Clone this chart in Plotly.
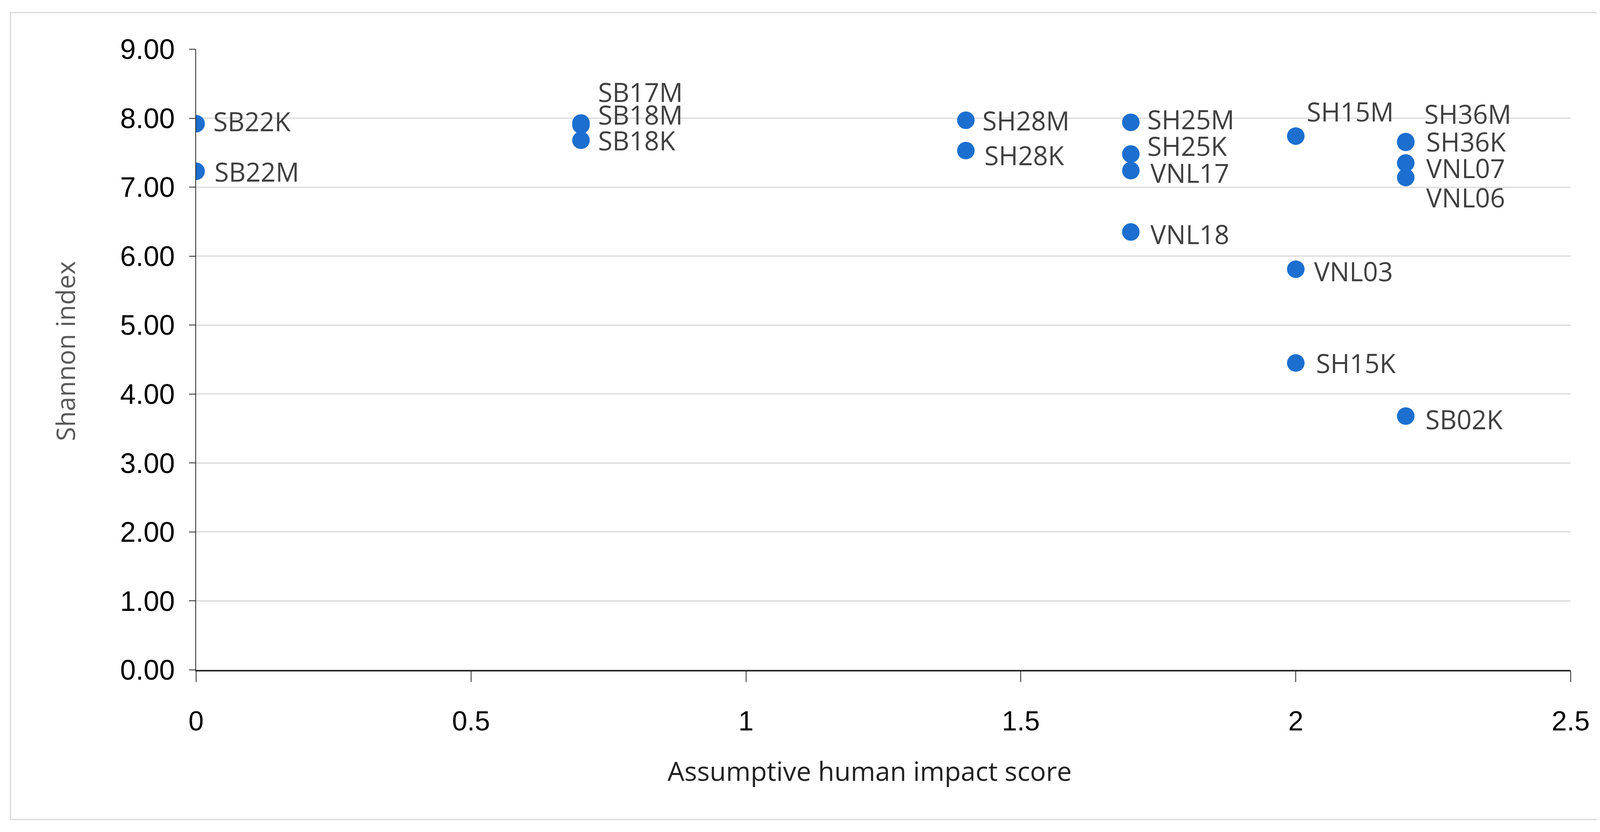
import plotly.graph_objects as go

# ---- data ----
sites = ["SB22K", "SB22M", "SB17M", "SB18M", "SB18K", "SH28M", "SH28K",
         "SH25M", "SH25K", "VNL17", "VNL18", "SH15M", "VNL03", "SH15K",
         "SH36M", "SH36K", "VNL07", "VNL06", "SB02K"]
impact_score = [0, 0, 0.7, 0.7, 0.7, 1.4, 1.4,
                1.7, 1.7, 1.7, 1.7, 2.0, 2.0, 2.0,
                2.2, 2.2, 2.2, 2.2, 2.2]
shannon = [7.92, 7.23, 7.93, 7.90, 7.68, 7.97, 7.53,
           7.94, 7.48, 7.24, 6.35, 7.74, 5.81, 4.45,
           7.66, 7.65, 7.35, 7.14, 3.68]
x_ticks = [0, 0.5, 1, 1.5, 2, 2.5]
y_ticks = [0, 1, 2, 3, 4, 5, 6, 7, 8, 9]

# ---- label placement (pixel offsets, style only) ----
label_shift = {
    "SB22K": (45, 7), "SB22M": (48, 0), "SB17M": (45, 80), "SB18M": (45, 27),
    "SB18K": (45, 0), "SH28M": (43, 0), "SH28K": (48, -11), "SH25M": (43, 8),
    "SH25K": (43, 21), "VNL17": (51, -5), "VNL18": (51, -5), "SH15M": (29, 63),
    "VNL03": (48, -5), "SH15K": (53, 0), "SH36M": (48, 72), "SH36K": (53, 2),
    "VNL07": (53, -13), "VNL06": (53, -51), "SB02K": (51, -8),
}

W, H = 4174, 2114
ML, MR, MT, MB = 494, 161, 118, 407

fig = go.Figure()
fig.add_trace(go.Scatter(
    x=impact_score, y=shannon, mode="markers",
    marker=dict(size=45, color="#1c6fcf", line=dict(width=0)),
    hoverinfo="skip", showlegend=False,
))

annotations = []
for name, xv, yv in zip(sites, impact_score, shannon):
    dx, dy = label_shift[name]
    annotations.append(dict(
        x=xv, y=yv, xref="x", yref="y", text=name, showarrow=False,
        xanchor="left", yanchor="middle", xshift=dx - 2, yshift=dy,
        borderpad=0,
        font=dict(family="Open Sans", size=67, color="#404040"),
    ))

annotations.append(dict(
    x=-0.0955, y=0.514, xref="paper", yref="paper", text="Shannon index",
    textangle=-90, showarrow=False, xanchor="center", yanchor="middle",
    font=dict(family="Open Sans", size=66, color="#595959"),
))
annotations.append(dict(
    x=0.490, y=-0.162, xref="paper", yref="paper",
    text="Assumptive human impact score",
    showarrow=False, xanchor="center", yanchor="middle",
    font=dict(family="Open Sans", size=68, color="#222222"),
))

fig.update_layout(
    width=W, height=H,
    margin=dict(l=ML, r=MR, t=MT, b=MB, autoexpand=False),
    paper_bgcolor="white", plot_bgcolor="white",
    annotations=annotations,
    shapes=[dict(type="rect", xref="paper", yref="paper",
                 x0=-0.135, x1=1.0403, y0=-0.241, y1=1.059,
                 line=dict(color="#d9d9d9", width=3), fillcolor="rgba(0,0,0,0)",
                 layer="below")],
)

fig.update_xaxes(
    range=[0, 2.5], tickvals=x_ticks, ticktext=[f"{v:g}" for v in x_ticks],
    showgrid=False, zeroline=False,
    showline=True, linecolor="#262626", linewidth=4,
    ticks="outside", ticklen=27, tickwidth=2, tickcolor="#262626",
    ticklabelstandoff=40,
    tickfont=dict(family="Liberation Sans", size=70, color="#000000"),
)
fig.update_yaxes(
    range=[0, 9], tickvals=y_ticks, ticktext=[f"{v:.2f}" for v in y_ticks],
    showgrid=True, gridcolor="#d9d9d9", gridwidth=3, zeroline=False,
    showline=True, linecolor="#262626", linewidth=2,
    ticks="outside", ticklen=16, tickwidth=2, tickcolor="#262626",
    ticklabelstandoff=22,
    tickfont=dict(family="Liberation Sans", size=72, color="#000000"),
)

fig.write_html("out.html")
